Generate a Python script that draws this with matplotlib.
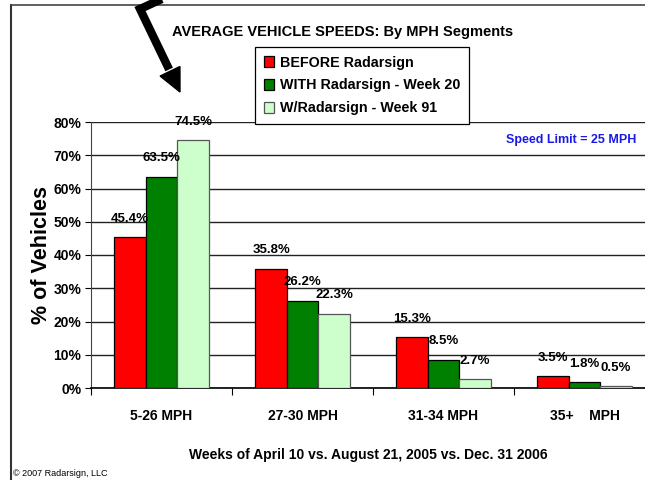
import numpy as np
import matplotlib
matplotlib.use('Agg')
import matplotlib.pyplot as plt
from matplotlib.lines import Line2D
from matplotlib.patches import Polygon

plt.rcParams['font.family'] = ['Liberation Sans Narrow', 'Liberation Sans', 'DejaVu Sans']

categories = ['5-26 MPH', '27-30 MPH', '31-34 MPH', '35+    MPH']
before = [45.4, 35.8, 15.3, 3.5]
week20 = [63.5, 26.2, 8.5, 1.8]
week91 = [74.5, 22.3, 2.7, 0.5]
series_names = ['BEFORE Radarsign', 'WITH Radarsign - Week 20', 'W/Radarsign - Week 91']
series_colors = ['#FF0000', '#008000', '#CCFFCC']
yticks = [0, 10, 20, 30, 40, 50, 60, 70, 80]

W, H = 645, 480
fig = plt.figure(figsize=(W / 100, H / 100), dpi=100)


def fx(px):
    return px / W


def fy(py):
    return 1 - py / H


ax = fig.add_axes([fx(91), fy(388), fx(645) - fx(91), fy(122) - fy(388)])

x = np.arange(len(categories))
bw = 0.223
for i, (vals, name, col) in enumerate(zip([before, week20, week91], series_names, series_colors)):
    ec = '#555555' if i == 2 else 'black'
    bars = ax.bar(x + (i - 1) * bw, vals, bw, color=col, edgecolor=ec, linewidth=0.9,
                  label=name, zorder=3)
    for b, v in zip(bars, vals):
        ax.annotate(f'{v:.1f}%', (b.get_x() + b.get_width() / 2, v), xytext=(0, 9),
                    textcoords='offset points', ha='center', va='bottom',
                    fontsize=9.5, fontweight='bold', zorder=5, annotation_clip=False)

ax.set_xlim(-0.5, -0.5 + 554 / 141)
ax.set_ylim(0, 80)
ax.set_yticks(yticks)
ax.set_yticklabels([f'{t}%' for t in yticks], fontsize=10, fontweight='bold')
ax.yaxis.grid(True, color='#222222', linewidth=1, zorder=0)
ax.set_axisbelow(True)

ax.set_xticks(np.arange(-0.5, len(categories) - 0.5, 1))
ax.set_xticklabels([])
ax.set_xticks(x, minor=True)
ax.set_xticklabels(categories, minor=True, fontsize=10, fontweight='bold')
ax.tick_params(axis='x', which='major', direction='out', length=5, color='black')
ax.tick_params(axis='x', which='minor', length=0, pad=15)
ax.tick_params(axis='y', direction='out', length=4, color='black', pad=3)

for s in ['top', 'right']:
    ax.spines[s].set_visible(False)
ax.spines['left'].set_color('#444444')
ax.spines['bottom'].set_color('black')
ax.spines['bottom'].set_linewidth(1.2)

ax.set_ylabel('% of Vehicles', fontsize=15.5, fontweight='bold', family=['Liberation Sans', 'DejaVu Sans'],
              labelpad=1)
ax.set_xlabel('Weeks of April 10 vs. August 21, 2005 vs. Dec. 31 2006', fontsize=10,
              fontweight='bold', labelpad=18)

leg = ax.legend(loc='upper left', bbox_to_anchor=(fx(255), fy(47)), bbox_transform=fig.transFigure,
                borderaxespad=0, fancybox=False, edgecolor='black', framealpha=1,
                handlelength=0.75, handleheight=0.75, handletextpad=0.4, labelspacing=0.62,
                borderpad=0.6, prop={'weight': 'bold', 'size': 10.3})
leg.get_frame().set_linewidth(0.9)
leg.set_zorder(10)

fig.text(fx(343), fy(32), 'AVERAGE VEHICLE SPEEDS: By MPH Segments', ha='center', va='center',
         fontsize=10.5, fontweight='bold')
fig.text(fx(636), fy(140), 'Speed Limit = 25 MPH', ha='right', va='center',
         fontsize=9, fontweight='bold', color='#1A1AE6')
fig.text(fx(13), fy(473), '\u00a9 2007 Radarsign, LLC', ha='left', va='center', fontsize=6.5)

# frame lines
fig.add_artist(Line2D([fx(11), fx(11)], [fy(5), fy(480)], color='#333333', linewidth=1.5))
fig.add_artist(Line2D([fx(11), fx(645)], [fy(5), fy(5)], color='#444444', linewidth=1.2))

# arrow
tip = np.array([180.0, 92.0])
kink = np.array([140.0, 9.0])
u = (tip - kink) / np.linalg.norm(tip - kink)
p = np.array([u[1], -u[0]])
base = tip - 23 * u
c1 = base + 11 * p
c2 = base - 11 * p
fig.add_artist(Line2D([fx(164), fx(kink[0]), fx(base[0] - 2 * u[0])],
                      [fy(-2), fy(kink[1]), fy(base[1] - 2 * u[1])],
                      color='black', linewidth=6, solid_joinstyle='miter', solid_capstyle='butt'))
fig.add_artist(Polygon([[fx(tip[0]), fy(tip[1])], [fx(c1[0]), fy(c1[1])], [fx(c2[0]), fy(c2[1])]],
                       closed=True, facecolor='black', edgecolor='black', transform=fig.transFigure))

fig.savefig('out.png', dpi=100)
